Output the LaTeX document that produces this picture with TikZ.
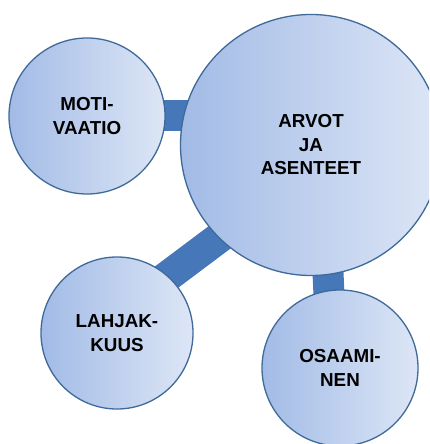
\documentclass[tikz,border=0pt]{standalone}
\usepackage{fontspec}
\setmainfont{Liberation Sans}
\usetikzlibrary{calc}
\definecolor{rimblue}{HTML}{3F6A99}
\definecolor{darkfill}{HTML}{A2BBE6}
\definecolor{lightfill}{HTML}{DDE6F6}
\definecolor{linkblue}{HTML}{4677B8}
\tikzset{
  bubble/.style={circle, draw=rimblue, line width=1.3bp, left color=darkfill, right color=lightfill,
    inner sep=0pt, align=center, font=\fontsize{18.8bp}{23.5bp}\selectfont\bfseries},
  link/.style={draw=linkblue, line width=31bp}
}
\begin{document}
\begin{tikzpicture}[x=1bp,y=-1bp]
\useasboundingbox (0,0) rectangle (429,444);
\clip (0,0) rectangle (429,444);
\fill[white] (0,0) rectangle (429,444);
% links (behind bubbles)
\coordinate (mc) at (87,116);
\coordinate (ac) at (311,145);
\coordinate (lc) at (117,333);
\coordinate (oc) at (340,368);
\draw[link] (mc) -- (mc -| ac);
\draw[link] ($(lc)+(15,-30)$) -- ($(ac)+(-51,62)$);
\draw[link] ($(oc)+(-10,-50)$) -- ($(ac)+(14,60)$);
% bubbles
\node[bubble, minimum size=156bp] (mot) at (mc) {MOTI-\\VAATIO};
\node[bubble, minimum size=261bp] (arv) at (ac) {ARVOT\\JA\\ASENTEET};
\node[bubble, minimum size=152bp] (lah) at (lc) {LAHJAK-\\KUUS};
\node[bubble, minimum size=156bp] (osa) at (oc) {OSAAMI-\\NEN};
\end{tikzpicture}
\end{document}
